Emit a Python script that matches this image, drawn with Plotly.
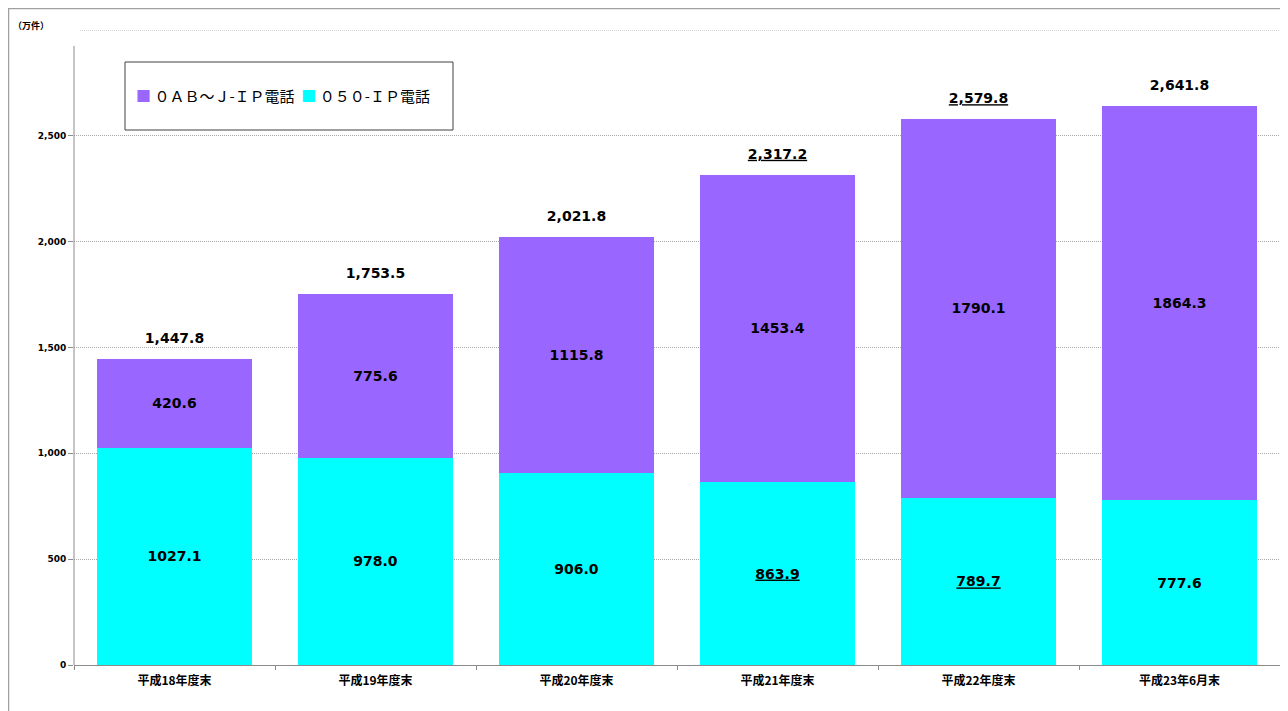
import plotly.graph_objects as go

categories = ["平成18年度末", "平成19年度末", "平成20年度末", "平成21年度末", "平成22年度末", "平成23年6月末"]
ip050 = [1027.1, 978.0, 906.0, 863.9, 789.7, 777.6]
ip0abj = [420.6, 775.6, 1115.8, 1453.4, 1790.1, 1864.3]
totals = [1447.8, 1753.5, 2021.8, 2317.2, 2579.8, 2641.8]
underlined_total = [False, False, False, True, True, False]
underlined_050 = [False, False, False, True, True, False]
name_0abj = "０ＡＢ～Ｊ-ＩＰ電話"
name_050 = "０５０-ＩＰ電話"
yticks = [0, 500, 1000, 1500, 2000, 2500]

color_0abj = "#9966FF"
color_050 = "#00FFFF"

def fmt(v, comma=False, u=False):
    s = f"{v:,.1f}" if comma else f"{v:.1f}"
    return f"<u>{s}</u>" if u else s

num_font = dict(family="DejaVu Sans, Verdana, sans-serif", size=14, color="black")

# page body has 8px offset; figure sized so the plot area lands where the reference has it
W, H = 1280, 703
ML, MR, MT, MB = 66, 8, 22, 46
PW, PH = W - ML - MR, H - MT - MB

def px_x(x):  # figure-pixel x -> paper
    return (x - ML) / PW

def px_y(y):  # figure-pixel y (from top) -> paper
    return (H - MB - y) / PH

fig = go.Figure()
fig.add_trace(go.Bar(
    x=categories, y=ip050, name=name_050, marker=dict(color=color_050, line=dict(width=0)),
    text=[f"<b>{fmt(v, u=u)}</b>" for v, u in zip(ip050, underlined_050)],
    textposition="inside", insidetextanchor="middle", textfont=num_font,
    width=0.77, showlegend=False,
))
fig.add_trace(go.Bar(
    x=categories, y=ip0abj, name=name_0abj, marker=dict(color=color_0abj, line=dict(width=0)),
    text=[f"<b>{fmt(v)}</b>" for v in ip0abj],
    textposition="inside", insidetextanchor="middle", textfont=num_font,
    width=0.77, showlegend=False,
))
fig.add_trace(go.Scatter(
    x=categories, y=totals, mode="markers+text", showlegend=False,
    marker=dict(size=18, color="rgba(0,0,0,0)"),
    text=[f"<b>{fmt(v, comma=True, u=u)}</b>" for v, u in zip(totals, underlined_total)],
    textposition="top center", textfont=num_font, cliponaxis=False, hoverinfo="skip",
))

legend_text = (f"<span style='color:{color_0abj}'>■</span> {name_0abj}  "
               f"<span style='color:{color_050}'>■</span> {name_050}")

fig.update_layout(
    barmode="stack",
    width=W, height=H,
    margin=dict(l=ML, r=MR, t=MT, b=MB, autoexpand=False),
    paper_bgcolor="white", plot_bgcolor="white",
    uniformtext=dict(mode=False),
    xaxis=dict(
        showline=True, linecolor="#8c8c8c", linewidth=1,
        ticks="outside", tickson="boundaries", ticklen=4, tickcolor="#8c8c8c",
        ticklabelstandoff=5,
        tickfont=dict(family="Noto Sans CJK JP, sans-serif", size=12, color="black", weight="bold"),
        showgrid=False,
    ),
    yaxis=dict(
        range=[0, 3000], tickvals=yticks, tickformat=",",
        showgrid=True, gridcolor="#a8a8a8", griddash="1px,1px", gridwidth=1,
        showline=False, zeroline=False,
        ticks="outside", ticklen=5, tickcolor="#8c8c8c",
        tickfont=dict(family="DejaVu Sans, Verdana, sans-serif", size=9, color="black", weight="bold"),
    ),
    shapes=[
        dict(type="line", xref="paper", yref="y", x0=px_x(72), x1=1, y0=3000, y1=3000,
             line=dict(color="#a8a8a8", width=1, dash="1px,1px")),
        dict(type="line", xref="paper", yref="y", x0=0, x1=0, y0=0, y1=2925,
             line=dict(color="#8c8c8c", width=1)),
        dict(type="rect", xref="paper", yref="paper", x0=px_x(117), x1=px_x(445),
             y0=px_y(122), y1=px_y(54), line=dict(color="#404040", width=1),
             fillcolor="rgba(0,0,0,0)"),
        dict(type="rect", xref="paper", yref="paper", x0=px_x(0.5), x1=px_x(1290),
             y0=px_y(720), y1=px_y(0.5), line=dict(color="#a0a0a0", width=1.5),
             fillcolor="rgba(0,0,0,0)"),
    ],
    annotations=[
        dict(text="<b>（万件）</b>", xref="paper", yref="paper", x=px_x(3), y=px_y(17),
             xanchor="left", yanchor="middle", showarrow=False,
             font=dict(family="Noto Sans CJK JP, sans-serif", size=9, color="black")),
        dict(text=legend_text, xref="paper", yref="paper", x=px_x(126), y=px_y(88),
             xanchor="left", yanchor="middle", showarrow=False,
             font=dict(family="Noto Sans CJK JP, sans-serif", size=15, color="black")),
    ],
)

fig.write_html("out.html")
